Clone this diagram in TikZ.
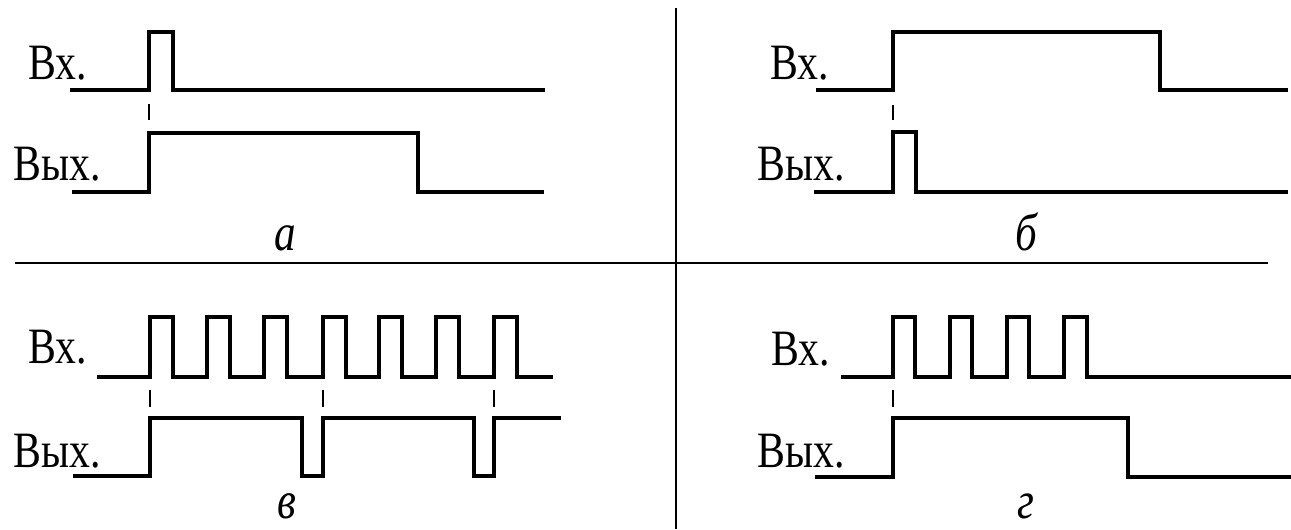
\documentclass[tikz,border=0pt]{standalone}
\usepackage{fontspec}
\usepackage{graphicx}
\setmainfont{Liberation Serif}
\newfontfamily\labelfont{Liberation Serif}
\newcommand{\narrow}[1]{\scalebox{0.82}[1]{#1}}

\begin{document}
\begin{tikzpicture}[scale=0.2,
  signal/.style={black, line width=2.2pt},
  divider/.style={black, line width=1.2pt},
  strobe/.style={black, line width=1pt},
  sig/.style={font=\labelfont\fontsize{29}{29}\selectfont, anchor=base west},
  caption/.style={font=\labelfont\itshape\fontsize{30}{30}\selectfont, anchor=base}]
\tikzstyle{every node}+=[inner sep=0pt]
\useasboundingbox (0,0) rectangle (129.1,-52.9);
% dividers
\draw [divider] (67.6,-0.8) -- (67.6,-52.9);
\draw [divider] (1.5,-26.3) -- (126.8,-26.3);
% a
\node [sig] (inA) at (2.8,-8.0) {\narrow{Вх.}};
\node [sig] (outA) at (1.3,-18.0) {\narrow{Вых.}};
\draw [signal] (7.0,-9.0) -| (14.9,-3.2) -| (17.3,-9.0) -- (54.5,-9.0);
\draw [strobe] (14.9,-10.4) -- (14.9,-12.0);
\draw [signal] (7.2,-19.2) -| (14.9,-13.3) -| (41.8,-19.2) -- (54.4,-19.2);
\node [caption] (capA) at (28.5,-25.0) {\narrow{а}};
% b
\node [sig] (inB) at (77.0,-8.0) {\narrow{Вх.}};
\node [sig] (outB) at (75.7,-18.0) {\narrow{Вых.}};
\draw [signal] (81.6,-9.0) -| (89.3,-3.2) -| (116.0,-9.0) -- (128.8,-9.0);
\draw [strobe] (89.3,-10.5) -- (89.3,-12.0);
\draw [signal] (81.4,-19.2) -| (89.3,-13.2) -| (91.6,-19.2) -- (128.8,-19.2);
\node [caption] (capB) at (102.6,-25.0) {\narrow{б}};
% v
\node [sig] (inV) at (2.8,-36.3) {\narrow{Вх.}};
\node [sig] (outV) at (1.3,-46.7) {\narrow{Вых.}};
\draw [signal] (9.7,-37.7) -| (15.0,-31.7) -| (17.3,-37.7) -| (20.7,-31.7) -| (23.0,-37.7)
  -| (26.4,-31.7) -| (28.7,-37.7) -| (32.3,-31.7) -| (34.6,-37.7) -| (37.9,-31.7)
  -| (40.2,-37.7) -| (43.6,-31.7) -| (45.9,-37.7) -| (49.4,-31.7) -| (51.7,-37.7) -- (55.3,-37.7);
\draw [strobe] (15.0,-39.0) -- (15.0,-40.7);
\draw [strobe] (32.3,-39.0) -- (32.3,-40.7);
\draw [strobe] (49.4,-39.0) -- (49.4,-40.7);
\draw [signal] (7.3,-47.6) -| (15.0,-41.8) -| (30.2,-47.6) -| (32.3,-41.8) -| (47.4,-47.6) -| (49.4,-41.8) -- (56.1,-41.8);
\node [caption] (capV) at (28.7,-51.8) {\narrow{в}};
% g
\node [sig] (inG) at (77.1,-36.5) {\narrow{Вх.}};
\node [sig] (outG) at (75.7,-46.7) {\narrow{Вых.}};
\draw [signal] (84.1,-37.7) -| (89.3,-31.7) -| (91.5,-37.7) -| (95.0,-31.7) -| (97.2,-37.7)
  -| (100.7,-31.7) -| (102.9,-37.7) -| (106.4,-31.7) -| (108.7,-37.7) -- (129.1,-37.7);
\draw [strobe] (89.3,-39.0) -- (89.3,-40.7);
\draw [signal] (81.5,-47.7) -| (89.3,-41.8) -| (112.8,-47.7) -- (129.1,-47.7);
\node [caption] (capG) at (102.6,-51.8) {\narrow{г}};
\end{tikzpicture}
\end{document}
